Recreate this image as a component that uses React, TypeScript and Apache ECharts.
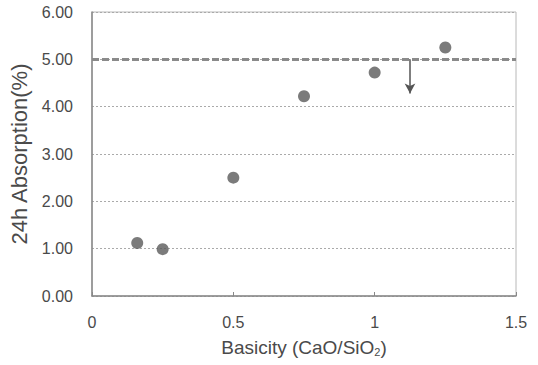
import React, { useEffect, useRef } from "react";
import * as echarts from "echarts";

const basicity = [0.16, 0.25, 0.5, 0.75, 1.0, 1.25];
const absorption = [1.12, 0.99, 2.5, 4.22, 4.72, 5.25];
const limitValue = 5.0;
const arrowX = 1.125;
const arrowFrom = 5.0;
const arrowTo = 4.28;
const xTicks = { min: 0, max: 1.5, interval: 0.5 };
const yTicks = { min: 0, max: 6, interval: 1 };

export default function App() {
  const ref = useRef<HTMLDivElement>(null);
  useEffect(() => {
    const chart = echarts.init(ref.current!, null, { renderer: "svg" });
    const font = "Liberation Sans";
    chart.setOption({
      animation: false,
      backgroundColor: "#fff",
      grid: {
        left: 92,
        right: 22,
        top: 12,
        bottom: 69,
        show: true,
        borderColor: "#b8b8b8",
        borderWidth: 1,
      },
      xAxis: {
        type: "value",
        min: xTicks.min,
        max: xTicks.max,
        interval: xTicks.interval,
        name: "Basicity (CaO/SiO{sub|2})",
        nameLocation: "middle",
        nameGap: 42,
        nameTextStyle: {
          fontFamily: font,
          fontSize: 19,
          color: "#4a4a4a",
          rich: { sub: { fontSize: 11, verticalAlign: "bottom", padding: [8, 0, 0, 0], fontFamily: font, color: "#4a4a4a" } },
        },
        axisLine: { lineStyle: { color: "#888", width: 1.5 } },
        axisTick: { inside: true, length: 4, lineStyle: { color: "#888" } },
        splitLine: { show: false },
        axisLabel: {
          fontFamily: font,
          fontSize: 16,
          color: "#4a4a4a",
          margin: 18,
          formatter: (v: number) => String(v),
        },
      },
      yAxis: {
        type: "value",
        min: yTicks.min,
        max: yTicks.max,
        interval: yTicks.interval,
        name: "24h Absorption(%)",
        nameLocation: "middle",
        nameGap: 58,
        nameTextStyle: { fontFamily: font, fontSize: 22, color: "#4a4a4a" },
        axisLine: { show: true, lineStyle: { color: "#888", width: 1.5 } },
        axisTick: { show: false },
        splitLine: { show: true, lineStyle: { color: "#aaa", type: [2, 2], width: 1 } },
        axisLabel: {
          fontFamily: font,
          fontSize: 16,
          color: "#4a4a4a",
          margin: 19,
          formatter: (v: number) => v.toFixed(2),
        },
      },
      series: [
        {
          type: "scatter",
          data: basicity.map((x, i) => [x, absorption[i]]),
          symbol: "circle",
          symbolSize: 12,
          itemStyle: { color: "#5a5a5a" },
          z: 5,
          markLine: {
            silent: true,
            symbol: "none",
            label: { show: false },
            lineStyle: { color: "#8a8a8a", type: [7, 3], width: 3 },
            data: [{ yAxis: limitValue }],
          },
        },
        {
          type: "line",
          data: [],
          markLine: {
            silent: true,
            symbol: ["none", "arrow"],
            symbolSize: [8, 10],
            label: { show: false },
            lineStyle: { color: "#555", type: "solid", width: 1.5 },
            data: [[{ coord: [arrowX, arrowFrom] }, { coord: [arrowX, arrowTo] }]],
          },
        },
      ],
    });
    return () => chart.dispose();
  }, []);
  return <div ref={ref} style={{ width: 538, height: 365, position: "absolute", left: 0, top: 0 }} />;
}
